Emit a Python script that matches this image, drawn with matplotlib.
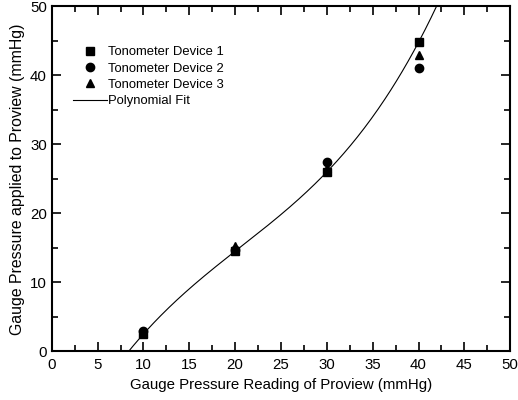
import numpy as np
import matplotlib
matplotlib.use('Agg')
import matplotlib.pyplot as plt
from matplotlib.ticker import MultipleLocator

plt.rcParams['font.family'] = ['Liberation Sans', 'DejaVu Sans']

x = [10, 20, 30, 40]
dev1 = [2.5, 14.5, 26.0, 44.8]
dev2 = [3.0, 14.7, 27.4, 41.0]
dev3 = [2.7, 15.2, 26.5, 43.0]

# cubic polynomial fit
coef = np.polyfit(x, dev1, 3)
xf = np.linspace(0, 50, 400)
yf = np.polyval(coef, xf)

fig = plt.figure(figsize=(5.18, 4.0), dpi=100)
ax = fig.add_axes([0.1, 0.122, 0.885, 0.862])

ax.plot(x, dev1, 's', color='black', ms=6, label='Tonometer Device 1')
ax.plot(x, dev2, 'o', color='black', ms=6, label='Tonometer Device 2')
ax.plot(x, dev3, '^', color='black', ms=6, label='Tonometer Device 3')
ax.plot(xf, yf, '-', color='black', lw=0.8, label='Polynomial Fit')

ax.set_xlim(0, 50)
ax.set_ylim(0, 50)
ax.xaxis.set_major_locator(MultipleLocator(5))
ax.xaxis.set_minor_locator(MultipleLocator(2.5))
ax.yaxis.set_major_locator(MultipleLocator(10))
ax.yaxis.set_minor_locator(MultipleLocator(5))
ax.tick_params(which='both', direction='in', top=True, right=True, labelsize=10.8)
ax.tick_params(axis='x', which='both', pad=5)
ax.tick_params(which='major', length=6.5, width=1.2)
ax.tick_params(which='minor', length=4.5, width=1.2)
for s in ax.spines.values():
    s.set_linewidth(1.5)

ax.set_xlabel('Gauge Pressure Reading of Proview (mmHg)', fontsize=10.8, labelpad=4)
ax.set_ylabel('Gauge Pressure applied to Proview (mmHg)', fontsize=11.4, labelpad=4)

ax.legend(loc='upper left', bbox_to_anchor=(0.035, 0.9), frameon=False, fontsize=9.4,
          handlelength=2.6, handletextpad=0.05, labelspacing=0.32, borderaxespad=0)

fig.savefig('out.png', dpi=100)
